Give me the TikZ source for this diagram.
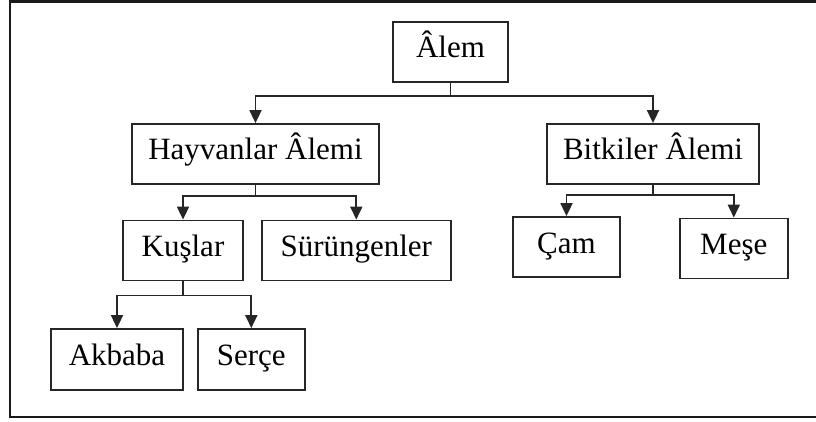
\documentclass[tikz,border=0pt]{standalone}
\usepackage{fontspec}
\setmainfont{Liberation Serif}
\usepackage{tikz}
\usetikzlibrary{positioning,arrows.meta,calc}

\begin{document}
\begin{tikzpicture} [
					x=1pt,y=-1pt,
					kutu/.style={draw=black!85,line width=1.8pt,minimum height=60pt,inner sep=0,
						text height=20pt,text depth=8pt,font=\fontsize{31}{36}\selectfont},
					ok/.style={-{Triangle[width=12pt,length=13pt]},line width=1.8pt,draw=black!85},
					node distance=17pt,
				]
				\useasboundingbox (0,0) rectangle (816,422);
				% dis cerceve
				\draw[line width=2.5pt,black!90] (816,1.5) -- (10,1.5) -- (10,417) -- (816,417);
				
				\node[kutu,minimum width=115pt] (alem) at (450.5,52) {Âlem};
				\node[kutu,minimum width=247pt] (hay) at (255.5,154) {Hayvanlar Âlemi};
				\node[kutu,minimum width=212pt] (bit) at (653,154) {Bitkiler Âlemi};
				\node[kutu,minimum width=120pt] (kus) at (183,250.5) {Kuşlar};
				\node[kutu,minimum width=189pt] (sur) [right=of kus] {Sürüngenler};
				\node[kutu,minimum width=107pt] (cam) at (566.5,247) {Çam};
				\node[kutu,minimum width=108pt,yshift=-1.5pt] (mese) [right=58pt of cam] {Meşe};
				\node[kutu,minimum width=132pt,minimum height=61pt] (akb) at (117,359.5) {Akbaba};
				\node[kutu,minimum width=107pt,minimum height=61pt] (ser) [right=13pt of akb] {Serçe};
				
				\coordinate (b1) at ($(alem.south)+(0,13)$);
				\coordinate (b2) at ($(hay.south)+(0,11)$);
				\coordinate (b3) at ($(bit.south)+(0,10)$);
				\coordinate (b4) at ($(kus.south)+(0,14)$);
				
				\draw[line width=1.8pt,black!85] (alem.south) -- (b1);
				\draw[ok] (b1) -| (hay.north);
				\draw[ok] (b1) -| (bit.north);
				\draw[line width=1.8pt,black!85] (hay.south) -- (b2);
				\draw[ok] (b2) -| (kus.north);
				\draw[ok] (b2) -| (sur.north);
				\draw[line width=1.8pt,black!85] (bit.south) -- (b3);
				\draw[ok] (b3) -| (cam.north);
				\draw[ok] (b3) -| (mese.north);
				\draw[line width=1.8pt,black!85] (kus.south) -- (b4);
				\draw[ok] (b4) -| (akb.north);
				\draw[ok] (b4) -| (ser.north);
				
			\end{tikzpicture}
\end{document}
